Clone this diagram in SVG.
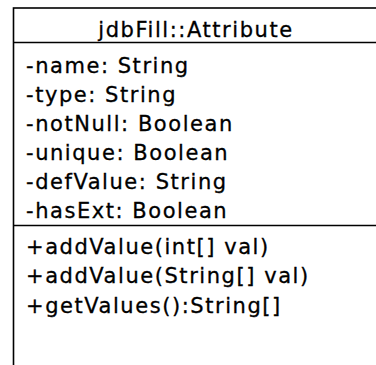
<svg xmlns="http://www.w3.org/2000/svg" width="376" height="365" viewBox="0 0 376 365">
<style>
.box{fill:#fff;stroke:#000;stroke-width:1.6}
.sep{stroke:#000;stroke-width:1.6}
text{font-family:"DejaVu Sans",sans-serif;font-size:21px;fill:#000;stroke:#000;stroke-width:0.3;letter-spacing:1.55px}
</style>
<rect width="376" height="365" fill="#fff"/>
<g id="class-attribute">
<rect class="box" x="13.5" y="8" width="366" height="370"/>
<line class="sep" x1="13.5" y1="42.5" x2="380" y2="42.5"/>
<line class="sep" x1="13.5" y1="225.5" x2="380" y2="225.5"/>
<text x="196" y="36.5" text-anchor="middle">jdbFill::Attribute</text>
<text x="26" y="72.5">-name: String</text>
<text x="26" y="101.5">-type: String</text>
<text x="26" y="130.5">-notNull: Boolean</text>
<text x="26" y="159.5">-unique: Boolean</text>
<text x="26" y="188.5">-defValue: String</text>
<text x="26" y="217.5">-hasExt: Boolean</text>
<text x="26" y="254">+addValue(int[] val)</text>
<text x="26" y="283">+addValue(String[] val)</text>
<text x="26" y="312.5">+getValues():String[]</text>
</g>
<g id="connectors"/>
</svg>
